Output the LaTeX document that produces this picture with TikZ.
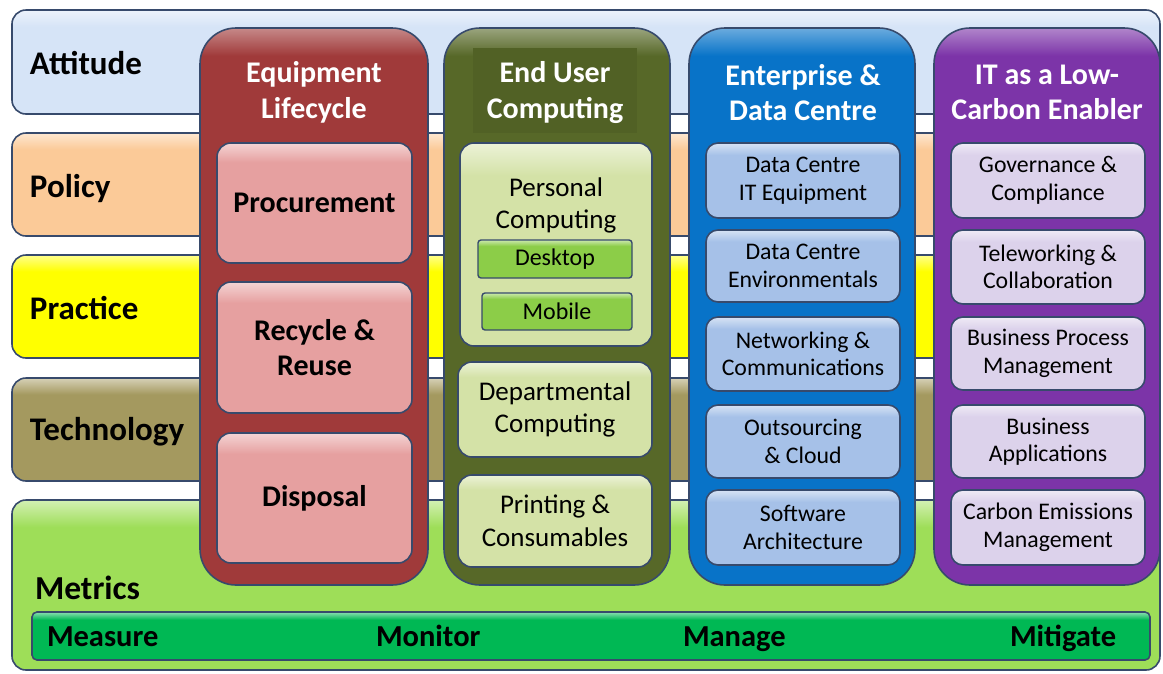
\documentclass[tikz,border=0pt]{standalone}
\usepackage{fontspec}
\setmainfont{Carlito}
\definecolor{edgecol}{RGB}{55,74,108}
\definecolor{attfill}{RGB}{214,228,247}
\definecolor{polfill}{RGB}{251,202,152}
\definecolor{prafill}{RGB}{255,255,0}
\definecolor{tecfill}{RGB}{164,153,95}
\definecolor{metfill}{RGB}{158,222,88}
\definecolor{barfill}{RGB}{0,184,84}
\definecolor{redcol}{RGB}{160,58,58}
\definecolor{pinkbox}{RGB}{230,160,160}
\definecolor{olivecol}{RGB}{87,104,40}
\definecolor{olivetitle}{RGB}{81,97,37}
\definecolor{greenbox}{RGB}{212,226,167}
\definecolor{brightgreen}{RGB}{140,205,72}
\definecolor{bluecol}{RGB}{8,115,200}
\definecolor{bluebox}{RGB}{166,193,232}
\definecolor{purplecol}{RGB}{124,52,168}
\definecolor{lavbox}{RGB}{220,210,235}
\colorlet{glossA}{white}
\colorlet{glossB}{white}
\pgfdeclareverticalshading[glossA,glossB]{gloss}{100bp}{color(0bp)=(glossA); color(67bp)=(glossA); color(75bp)=(glossB); color(100bp)=(glossB)}
\pgfdeclareverticalshading[glossA,glossB]{glosscol}{100bp}{color(0bp)=(glossA); color(72.5bp)=(glossA); color(75bp)=(glossB); color(100bp)=(glossB)}
\begin{document}
\begin{tikzpicture}[x=1pt,y=-1pt,
  every node/.style={inner sep=0pt, outer sep=0pt},
  gloss/.style={/utils/exec={\colorlet{glossA}{#1}\colorlet{glossB}{#1!45!white}}, shading=gloss},
  colgloss/.style={/utils/exec={\colorlet{glossA}{#1}\colorlet{glossB}{#1!60!white}}, shading=glosscol},
  band/.style={draw=edgecol, line width=1.6pt, rounded corners=14pt, minimum width=1148pt},
  bandlabel/.style={anchor=base west, font=\bfseries\fontsize{33}{38}\selectfont},
  column/.style={draw=edgecol, line width=1.6pt, rounded corners=36pt, minimum height=557pt},
  coltitle/.style={align=center, text=white, font=\bfseries\fontsize{30}{35.5}\selectfont},
  pinkitem/.style={draw=edgecol, line width=1.6pt, rounded corners=14pt, gloss=pinkbox, minimum width=195pt, align=center, font=\bfseries\fontsize{30}{35}\selectfont},
  greenitem/.style={draw=edgecol, line width=1.6pt, rounded corners=14pt, gloss=greenbox, minimum width=194pt, align=center, font=\fontsize{27}{32.5}\selectfont},
  smallgreen/.style={draw=edgecol, line width=1.4pt, rounded corners=3pt, gloss=brightgreen, font=\fontsize{24}{26}\selectfont},
  blueitem/.style={draw=edgecol, line width=1.6pt, rounded corners=12pt, gloss=bluebox, minimum width=194pt, align=center, font=\fontsize{23.8}{27.5}\selectfont},
  lavitem/.style={draw=edgecol, line width=1.6pt, rounded corners=12pt, gloss=lavbox, minimum width=194pt, align=center, font=\fontsize{23.8}{27.5}\selectfont},
  barlabel/.style={anchor=base west, font=\bfseries\fontsize{30.5}{34}\selectfont}
  ]
\useasboundingbox (0,0) rectangle (1163,673);
% bands
\node[band, gloss=attfill, minimum height=104pt] (attitude) at (586,62) {};
\node[band, gloss=polfill, minimum height=103pt] (policy) at (586,184.5) {};
\node[band, gloss=prafill, minimum height=103pt] (practice) at (586,306.5) {};
\node[band, gloss=tecfill, minimum height=103pt] (technology) at (586,429.5) {};
\node[band, gloss=metfill, minimum height=170pt] (metrics) at (586,585) {};
\node[bandlabel] (lattitude) at (30,74) {Attitude};
\node[bandlabel] (lpolicy) at (30,197) {Policy};
\node[bandlabel] (lpractice) at (30,319) {Practice};
\node[bandlabel] (ltechnology) at (30,440) {Technology};
\node[bandlabel, font=\bfseries\fontsize{33.5}{38}\selectfont] (lmetrics) at (35,599) {Metrics};
% measure bar
\node[draw=edgecol, line width=1.6pt, rounded corners=5pt, gloss=barfill, minimum width=1118pt, minimum height=48pt] (bar) at (591,636) {};
\node[barlabel] (measure) at (47,646) {Measure};
\node[barlabel] (monitor) at (376,646) {Monitor};
\node[barlabel] (manage) at (683,646) {Manage};
\node[barlabel] (mitigate) at (1010,646) {Mitigate};
% columns
\node[column, colgloss=redcol, minimum width=228pt] (eqcol) at (314,306.5) {};
\node[column, colgloss=olivecol, minimum width=226pt] (eucol) at (557,306.5) {};
\node[column, colgloss=bluecol, minimum width=226pt] (edcol) at (802,306.5) {};
\node[column, colgloss=purplecol, minimum width=226pt] (itcol) at (1047,306.5) {};
\node[fill=olivetitle, minimum width=164pt, minimum height=85pt] (eubg) at (555,90.5) {};
% titles
\node[coltitle] (eqtitle) at (314,92.5) {Equipment\\Lifecycle};
\node[coltitle] (eutitle) at (555,92.5) {End User\\Computing};
\node[coltitle] (edtitle) at (803,92.5) {Enterprise \&\\Data Centre};
\node[coltitle] (ittitle) at (1047,92.5) {IT as a Low-\\Carbon Enabler};
% equipment lifecycle items
\node[pinkitem, minimum height=120pt] (proc) at (314.5,203) {Procurement};
\node[pinkitem, minimum height=131pt] (recycle) at (314.5,347.5) {Recycle \&\\Reuse};
\node[pinkitem, minimum height=130pt] (disposal) at (314.5,498) {Disposal};
% end user computing items
\node[greenitem, minimum width=192pt, minimum height=203pt] (personal) at (556,244.5) {};
\node[align=center, font=\fontsize{27}{32}\selectfont] (personaltext) at (556,205) {Personal\\Computing};
\node[smallgreen, minimum width=154pt, minimum height=38pt] (desktop) at (555,259) {Desktop};
\node[smallgreen, minimum width=150pt, minimum height=37pt] (mobile) at (557,311.5) {Mobile};
\node[greenitem, minimum height=95pt] (dept) at (555,409.5) {Departmental\\Computing};
\node[greenitem, minimum height=92pt] (print) at (555,521) {Printing \&\\Consumables};
% enterprise items
\node[blueitem, minimum height=75pt] (dcit) at (803,180.5) {Data Centre\\IT Equipment};
\node[blueitem, minimum height=72pt] (dcenv) at (803,266) {Data Centre\\Environmentals};
\node[blueitem, minimum height=74pt] (netw) at (803,354) {Networking \&\\Communications};
\node[blueitem, minimum height=73pt] (outs) at (803,441.5) {Outsourcing\\\& Cloud};
\node[blueitem, minimum height=75pt] (soft) at (803,527.5) {Software\\Architecture};
% low carbon items
\node[lavitem, minimum height=75pt] (gov) at (1048,180.5) {Governance \&\\Compliance};
\node[lavitem, minimum height=74pt] (tele) at (1048,267) {Teleworking \&\\Collaboration};
\node[lavitem, minimum height=73pt] (bpm) at (1048,353.5) {Business Process\\Management};
\node[lavitem, minimum height=73pt] (bapp) at (1048,441.5) {Business\\Applications};
\node[lavitem, minimum height=75pt] (carbon) at (1048,527.5) {Carbon Emissions\\Management};
\end{tikzpicture}
\end{document}
